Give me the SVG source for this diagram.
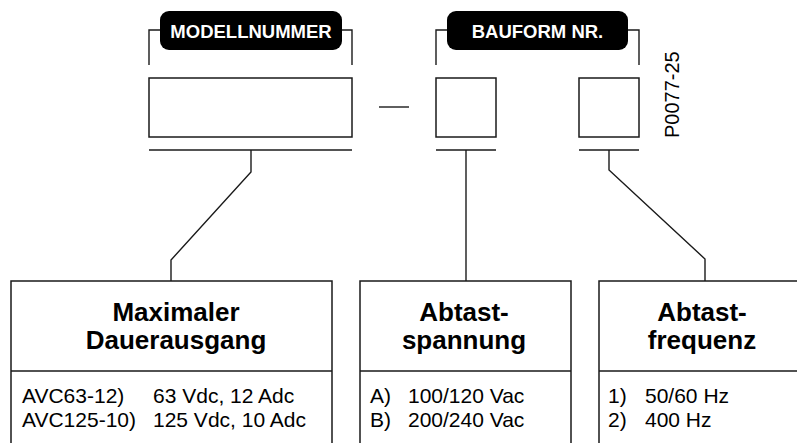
<svg xmlns="http://www.w3.org/2000/svg" width="797" height="443" viewBox="0 0 797 443">
<style>
.ln{fill:none;stroke:#1a1a1a;stroke-width:1.4}
.bx{fill:#fff;stroke:#1a1a1a;stroke-width:1.5}
.pill{fill:#000}
.pt{font-family:"Liberation Sans",Arial,sans-serif;font-weight:bold;font-size:18.5px;fill:#fff;text-anchor:middle}
.tt{font-family:"Liberation Sans",Arial,sans-serif;font-weight:bold;font-size:26px;fill:#000;text-anchor:middle}
.bt{font-family:"Liberation Sans",Arial,sans-serif;font-size:21px;fill:#000}
.id{font-family:"Liberation Sans",Arial,sans-serif;font-size:20px;fill:#000}
</style>
<rect width="797" height="443" fill="#fff"/>
<g id="modellnummer">
<path class="ln" d="M149,65 V30 H160 M342,30 H352 V65"/>
<rect class="pill" x="160" y="11" width="182" height="39" rx="9"/>
<text class="pt" x="251" y="37.5">MODELLNUMMER</text>
<rect class="bx" x="149" y="78" width="203" height="59"/>
<path class="ln" d="M149,150 H352"/>
</g>
<g id="dash"><path class="ln" d="M379,107 H409"/></g>
<g id="bauform">
<path class="ln" d="M436,65 V30 H447 M628,30 H639 V65"/>
<rect class="pill" x="447" y="11" width="181" height="39" rx="9"/>
<text class="pt" x="537.5" y="37.5">BAUFORM NR.</text>
<rect class="bx" x="436" y="78" width="60" height="59"/>
<rect class="bx" x="579" y="78" width="60" height="59"/>
<path class="ln" d="M436,150 H496 M579,150 H639"/>
</g>
<text class="id" transform="translate(679,138) rotate(-90)">P0077-25</text>
<g id="connectors">
<path class="ln" d="M251,150 V172 L171,260 V281"/>
<path class="ln" d="M466,150 V281"/>
<path class="ln" d="M609,150 V170 L705,259 V281"/>
</g>
<g id="box1">
<path class="bx" d="M11,443 V281 H332 V443 M11,371 H332"/>
<text class="tt" x="176" y="320.5">Maximaler</text>
<text class="tt" x="176" y="349">Dauerausgang</text>
<text class="bt" x="22" y="403">AVC63-12)</text>
<text class="bt" x="153" y="403">63 Vdc, 12 Adc</text>
<text class="bt" x="22" y="427">AVC125-10)</text>
<text class="bt" x="153" y="427">125 Vdc, 10 Adc</text>
</g>
<g id="box2">
<path class="bx" d="M360,443 V281 H571 V443 M360,371 H571"/>
<text class="tt" x="464" y="320.5">Abtast-</text>
<text class="tt" x="464" y="349">spannung</text>
<text class="bt" x="370" y="403">A)</text>
<text class="bt" x="408" y="403">100/120 Vac</text>
<text class="bt" x="370" y="427">B)</text>
<text class="bt" x="408" y="427">200/240 Vac</text>
</g>
<g id="box3">
<path class="bx" d="M599,443 V281 H810 M599,371 H810"/>
<text class="tt" x="702" y="320.5">Abtast-</text>
<text class="tt" x="702" y="349">frequenz</text>
<text class="bt" x="608" y="403">1)</text>
<text class="bt" x="645" y="403">50/60 Hz</text>
<text class="bt" x="608" y="427">2)</text>
<text class="bt" x="645" y="427">400 Hz</text>
</g>
</svg>
